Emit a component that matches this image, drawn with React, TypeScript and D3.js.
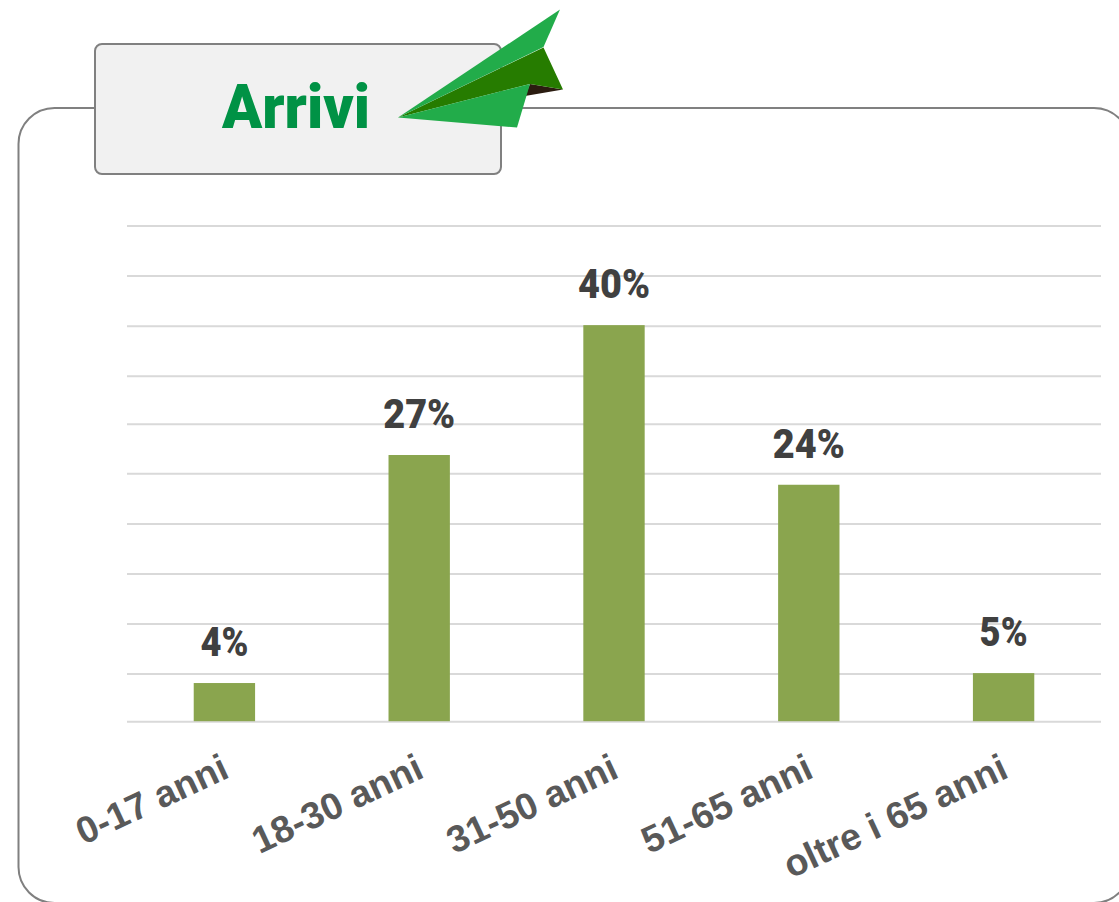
import React from "react";
import * as d3 from "d3";

const categories = ["0-17 anni", "18-30 anni", "31-50 anni", "51-65 anni", "oltre i 65 anni"];
const values = [3.9, 26.9, 40, 23.9, 4.9];
const valueLabels = ["4%", "27%", "40%", "24%", "5%"];
const gridTicks = [0, 4.8, 9.85, 14.9, 19.95, 25, 30, 34.85, 39.9, 44.95, 50];

const x = d3.scaleBand<string>().domain(categories).range([127, 1101]).paddingInner(0.685).paddingOuter(0.3425);
const y = d3.scaleLinear().domain([0, 50]).range([721.7, 226]);

const COND = "Roboto, 'Liberation Sans', sans-serif";

const planeTop: [number, number][] = [[560, 9.5], [543.5, 47], [398, 117.5]];
const planeFold: [number, number][] = [[543.5, 47.5], [563, 89.5], [530, 84], [398, 117.5]];
const planeInner: [number, number][] = [[530, 84], [563, 89.5], [525, 96]];
const planeWing: [number, number][] = [[530, 84], [517, 127.5], [398, 117.5]];

export default function App() {
  const line = d3.line();
  return (
    <svg width={1119} height={902} style={{ position: "absolute", left: 0, top: 0, background: "#fff" }}>
      <rect x={18.5} y={108} width={1111.5} height={795} rx={36} ry={36} fill="#fff" stroke="#808080" strokeWidth={2} />
      {gridTicks.map((t) => (
        <line key={t} x1={127} x2={1101} y1={y(t)} y2={y(t)} stroke="#d9d9d9" strokeWidth={2} />
      ))}
      {categories.map((c, i) => (
        <g key={c}>
          <rect x={x(c)!} y={y(values[i])} width={x.bandwidth()} height={y(0) - y(values[i]) - 0.5} fill="#8aa54e" />
          <text
            x={x(c)! + x.bandwidth() / 2}
            y={y(values[i]) - 27}
            textAnchor="middle"
            fontFamily={COND}
            fontWeight={900}
            fontSize={40}
            fill="#404040"
            textLength={valueLabels[i].length === 2 ? 48 : 72}
            lengthAdjust="spacingAndGlyphs"
          >
            {valueLabels[i]}
          </text>
          <text
            transform={`translate(${x(c)! + x.bandwidth() / 2 - 5},752) rotate(-25)`}
            textAnchor="end"
            dominantBaseline="hanging"
            fontFamily="'Liberation Sans', Arial, sans-serif"
            fontWeight={700}
            fontSize={37.5}
            fill="#595959"
          >
            {c}
          </text>
        </g>
      ))}
      <rect x={95} y={44} width={406} height={130} rx={7} ry={7} fill="#f1f1f1" stroke="#808080" strokeWidth={2} />
      <text x={222} y={128} fontFamily={COND} fontWeight={900} fontSize={62} fill="#009245" textLength={148} lengthAdjust="spacingAndGlyphs">
        Arrivi
      </text>
      <path d={line(planeInner)!} fill="#2b1c10" />
      <path d={line(planeFold)!} fill="#267c00" />
      <path d={line(planeTop)!} fill="#22ac4a" />
      <path d={line(planeWing)!} fill="#22ac4a" />
    </svg>
  );
}
